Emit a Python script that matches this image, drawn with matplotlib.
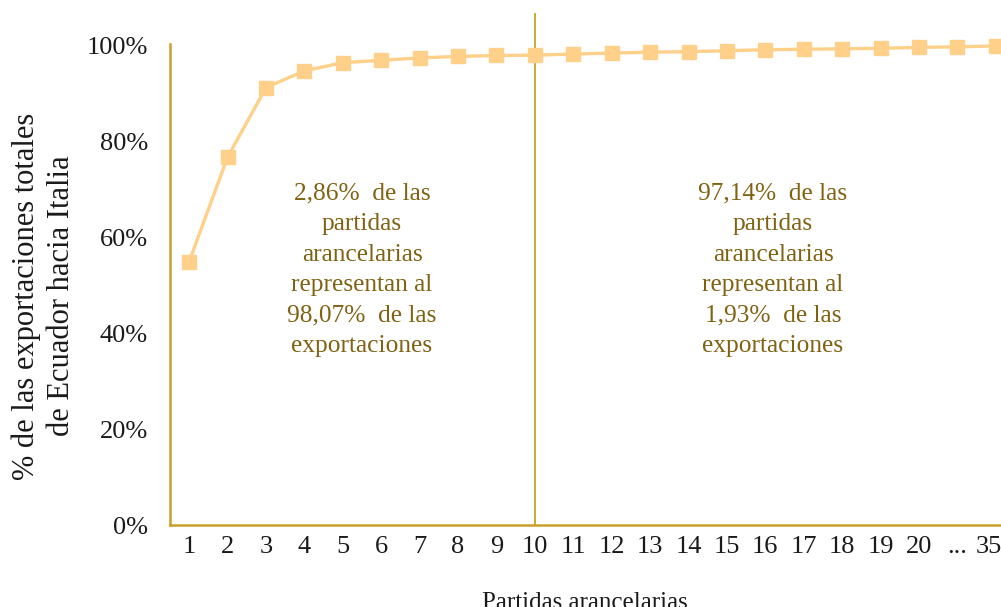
import matplotlib.pyplot as plt
from matplotlib.ticker import FuncFormatter

# datos
partidas = ["1", "2", "3", "4", "5", "6", "7", "8", "9", "10", "11", "12", "13",
            "14", "15", "16", "17", "18", "19", "20", "...", "350"]
acumulado = [55.0, 76.8, 91.3, 94.8, 96.5, 97.0, 97.5, 97.8, 98.0, 98.07, 98.3,
             98.5, 98.7, 98.8, 99.0, 99.2, 99.3, 99.4, 99.5, 99.7, 99.8, 100.0]
y_ticks = [0, 20, 40, 60, 80, 100]
corte = "10"
texto_izq = "2,86%  de las\npartidas\narancelarias\nrepresentan al\n98,07%  de las\nexportaciones"
texto_der = "97,14%  de las\npartidas\narancelarias\nrepresentan al\n1,93%  de las\nexportaciones"

plt.rcParams['font.family'] = ['Liberation Serif', 'DejaVu Serif']

fig = plt.figure(figsize=(10.01, 6.07), dpi=100)
# el eje sigue mas alla del borde derecho como en la imagen original
ax = fig.add_axes([170/1001, 82/607, 845/1001, 481/607])

x = list(range(len(partidas)))
ax.plot(x, acumulado, color="#FFD08A", lw=2.4, marker="s", markersize=10,
        clip_on=False, zorder=3)

ix = partidas.index(corte)
ax.axvline(ix, ymin=0, ymax=1.062, color="#C9A02A", lw=1.3, clip_on=False)

ax.set_xlim(-0.5, len(partidas) - 0.5)
ax.set_ylim(0, 100.4)
ax.set_xticks(x)
ax.set_xticklabels(partidas)
ax.set_yticks(y_ticks)
ax.yaxis.set_major_formatter(FuncFormatter(lambda v, p: "%d%%" % v))
ax.tick_params(length=0, labelsize=19, colors="#1a1a1a")
ax.tick_params(axis="y", pad=16)
ax.tick_params(axis="x", pad=8)

for s in ["top", "right"]:
    ax.spines[s].set_visible(False)
for s in ["left", "bottom"]:
    ax.spines[s].set_color("#C9A02A")
    ax.spines[s].set_linewidth(1.8)

fig.text(585/1001, 1 - 592/607, "Partidas arancelarias", ha="center", va="top",
         fontsize=18, color="#1a1a1a")
fig.text(44/1001, 1 - 296/607, "% de las exportaciones totales\nde Ecuador hacia Italia",
         rotation=90, ha="center", va="center", fontsize=22, color="#1a1a1a",
         linespacing=1.25, multialignment="center")

ax.text(4.5, 53.2, texto_izq, ha="center", va="center", fontsize=18.3,
        color="#7F6212", linespacing=1.5)
ax.text(15.2, 53.2, texto_der, ha="center", va="center", fontsize=18.3,
        color="#7F6212", linespacing=1.5)

fig.savefig("out.png", dpi=100)
